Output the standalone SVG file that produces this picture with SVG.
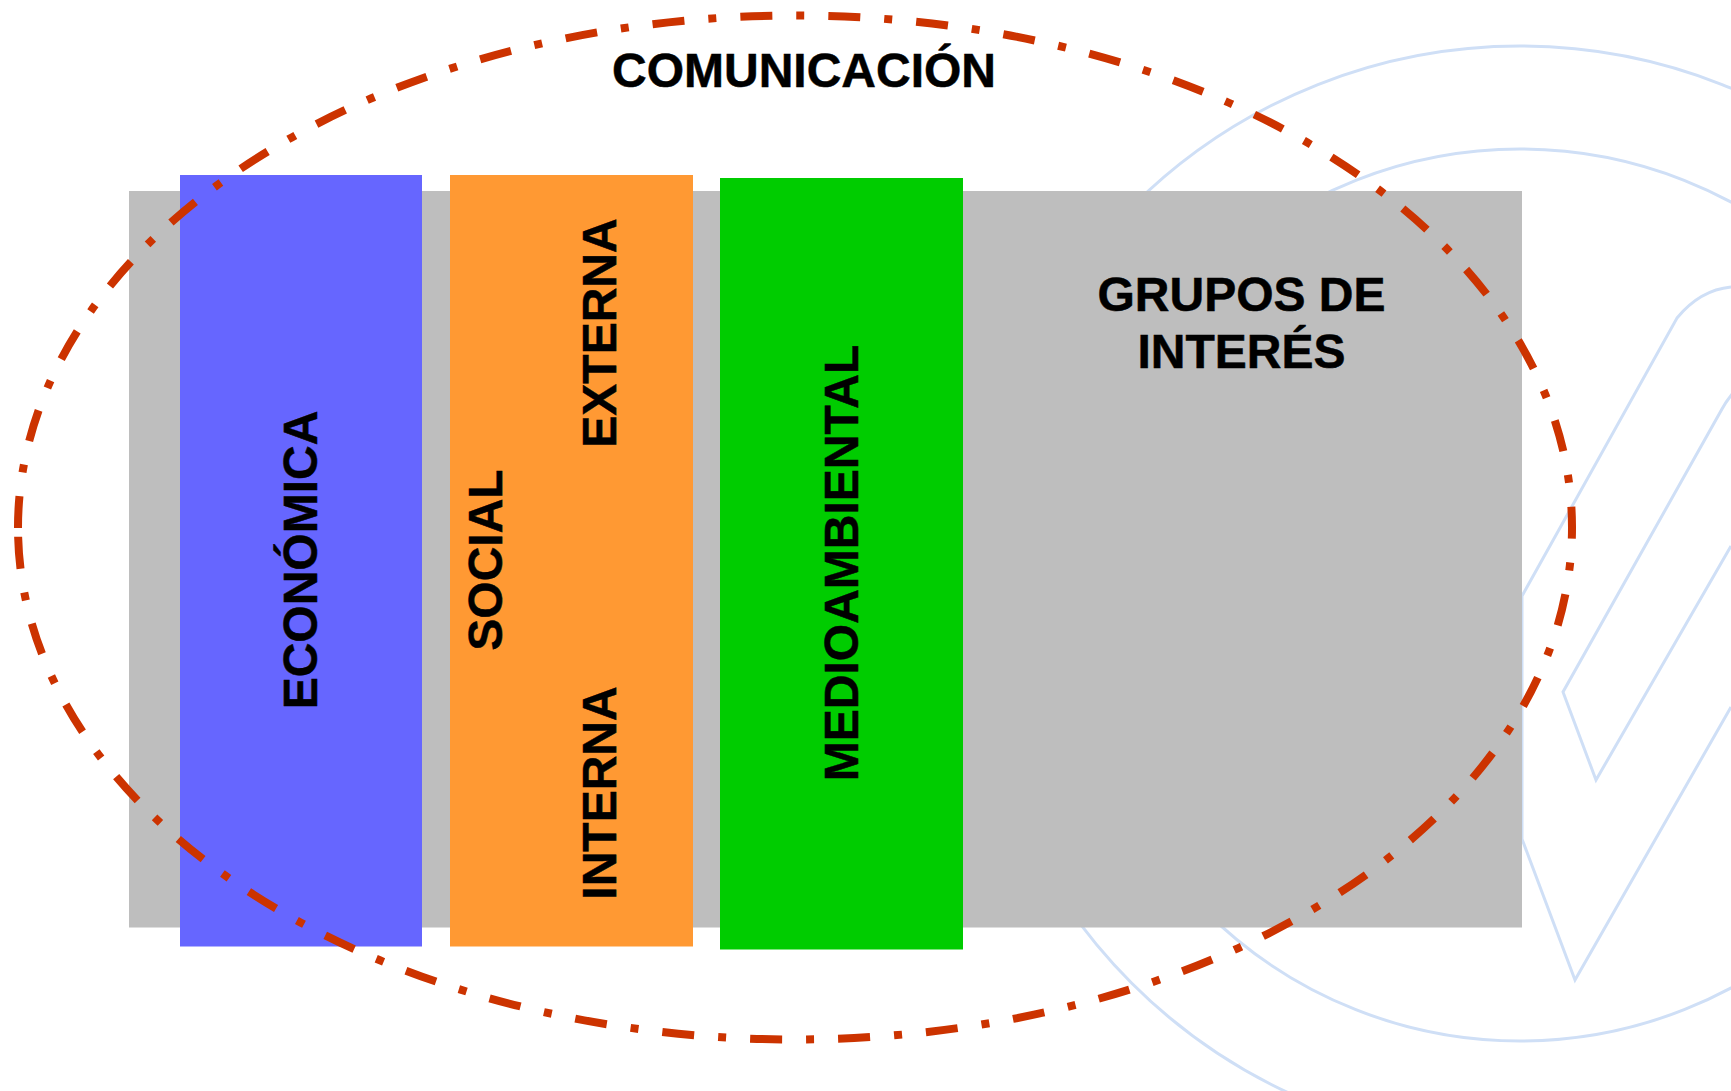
<svg xmlns="http://www.w3.org/2000/svg" width="1731" height="1091" viewBox="0 0 1731 1091">
<style>
.logo{fill:none;stroke:#CFDFF6;stroke-width:3}
.t{font-family:"Liberation Sans",Arial,sans-serif;font-weight:700;font-size:48px;fill:#000;stroke:#000;stroke-width:.5px;text-anchor:middle}
</style>
<rect width="1731" height="1091" fill="#fff"/>
<g id="logo">
<circle class="logo" cx="1520" cy="595" r="549"/>
<circle class="logo" cx="1520" cy="595" r="446"/>
<path class="logo" d="M1731 287Q1700 290 1677 318L1522 596V839L1575 980L1731 707"/>
<path class="logo" d="M1740 385Q1728 398 1722 409L1563 692L1596 780L1731 546"/>
</g>
<g id="grupos"><rect x="129" y="191" width="1393" height="736.500" fill="#BEBEBE"/>
<text class="t" x="1241.500" y="311">GRUPOS DE</text><text class="t" x="1241.500" y="368">INTERÉS</text></g>
<g id="economica"><rect x="180" y="175" width="242" height="771.500" fill="#6666FF"/>
<text class="t" transform="translate(317 560) rotate(-90)">ECONÓMICA</text></g>
<g id="social"><rect x="450" y="175" width="243" height="771.500" fill="#FF9933"/>
<text class="t" transform="translate(501.500 560) rotate(-90)">SOCIAL</text>
<text class="t" transform="translate(616 333) rotate(-90)">EXTERNA</text>
<text class="t" transform="translate(616 793) rotate(-90)">INTERNA</text></g>
<g id="medioambiental"><rect x="720" y="178" width="243" height="771.500" fill="#00CC00"/>
<text class="t" transform="translate(858 563) rotate(-90)">MEDIOAMBIENTAL</text></g>
<g id="connectors"><path d="M18 528A777 512 0 1 1 1572 527A777 512 0 1 1 18 528Z" fill="none" stroke="#CC3300" stroke-width="8" stroke-dasharray="32 24 8 24.070"/></g>
<g id="comunicacion"><text class="t" x="804" y="87">COMUNICACIÓN</text></g>
</svg>
